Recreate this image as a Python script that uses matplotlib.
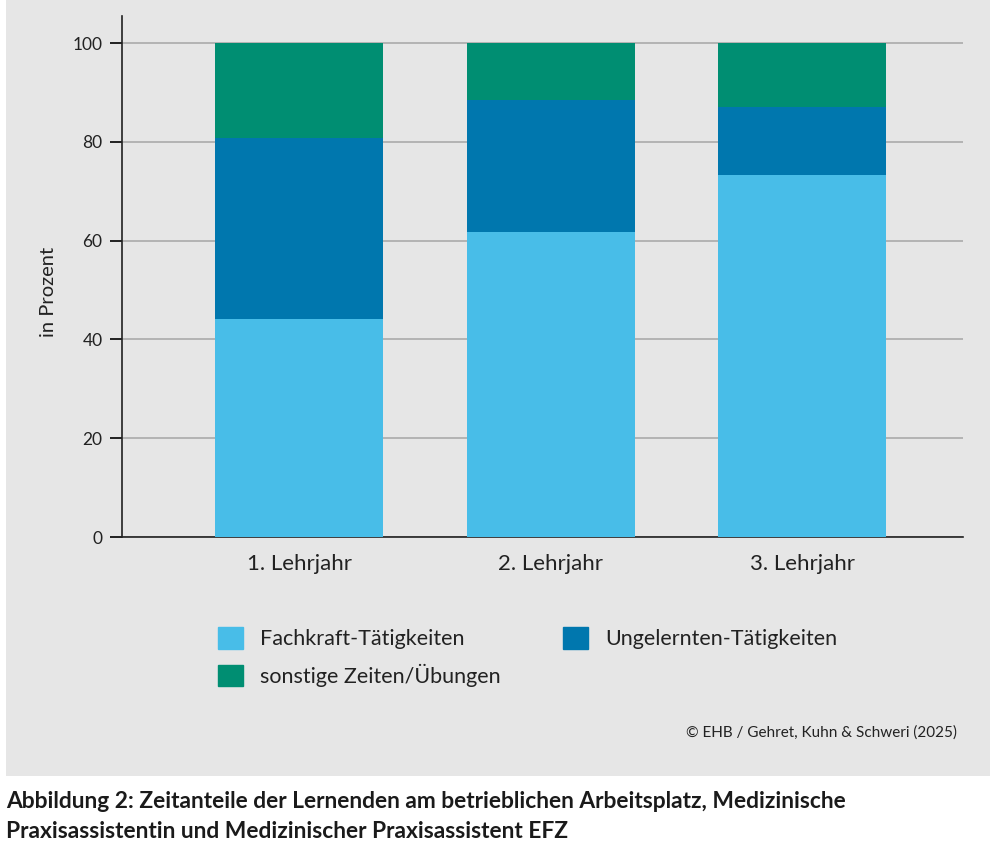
import numpy as np
import matplotlib
matplotlib.use("Agg")
from matplotlib import pyplot as plt
from matplotlib.patches import Rectangle, Patch

plt.rcParams['font.family'] = ['Lato', 'DejaVu Sans']

years = ["1. Lehrjahr", "2. Lehrjahr", "3. Lehrjahr"]
fachkraft = np.array([44.1, 61.7, 73.3])
ungelernte = np.array([36.7, 26.8, 13.7])
sonstige = np.array([19.2, 11.5, 13.0])

labels = ["Fachkraft-Tätigkeiten", "Ungelernten-Tätigkeiten", "sonstige Zeiten/Übungen"]
colors = ["#48BDE8", "#0077AE", "#008E72"]

W, H = 997, 849
fig = plt.figure(figsize=(W / 100, H / 100), dpi=100)
fig.patch.set_facecolor("white")

# gray panel behind the chart
fig.patches.append(Rectangle((6 / W, 1 - 776 / H), (990 - 6) / W, 776 / H,
                             transform=fig.transFigure, facecolor="#E6E6E6",
                             edgecolor="none", zorder=-10))

ax = fig.add_axes([122 / W, 1 - 537 / H, (963 - 122) / W, (537 - 16) / H])
ax.set_facecolor("none")

x = np.arange(len(years))
w = 0.668
ax.bar(x, fachkraft, w, color=colors[0], zorder=3)
ax.bar(x, ungelernte, w, bottom=fachkraft, color=colors[1], zorder=3)
ax.bar(x, sonstige, w, bottom=fachkraft + ungelernte, color=colors[2], zorder=3)

ax.set_xlim(-0.704, 2.64)
ax.set_ylim(0, 105.5)
ax.set_yticks([0, 20, 40, 60, 80, 100])
ax.yaxis.grid(True, color="#AAAAAA", linewidth=1.2, zorder=1)
ax.set_axisbelow(True)
ax.set_xticks(x)
ax.set_xticklabels(years, fontsize=16, color="#222222")
ax.tick_params(axis="x", length=0, pad=12)
ax.tick_params(axis="y", length=9, width=1.2, labelsize=12.5, labelcolor="#222222", pad=5)
for s in ["top", "right"]:
    ax.spines[s].set_visible(False)
for s in ["left", "bottom"]:
    ax.spines[s].set_color("#222222")
    ax.spines[s].set_linewidth(1.2)
ax.set_ylabel("in Prozent", fontsize=14.5, color="#222222")
ax.yaxis.set_label_coords(-0.077, 0.47)

handles = [Patch(color=colors[0]), Patch(color=colors[2]), Patch(color=colors[1])]
fig.legend(handles, [labels[0], labels[2], labels[1]], ncol=2,
           loc="upper left", bbox_to_anchor=(218 / W, 1 - 627 / H),
           frameon=False, fontsize=15.5, handlelength=1.16, handleheight=1.16,
           handletextpad=0.8, columnspacing=2.9, labelspacing=0.68,
           borderpad=0, borderaxespad=0, labelcolor="#222222")

fig.text(957 / W, 1 - 733 / H, "© EHB / Gehret, Kuhn & Schweri (2025)",
         ha="right", va="center", fontsize=11, color="#222222")

fig.text(6 / W, 1 - 802 / H,
         "Abbildung 2: Zeitanteile der Lernenden am betrieblichen Arbeitsplatz, Medizinische",
         ha="left", va="center", fontsize=16.4, fontweight="bold", color="#1A1A1A")
fig.text(6 / W, 1 - 832 / H,
         "Praxisassistentin und Medizinischer Praxisassistent EFZ",
         ha="left", va="center", fontsize=16.4, fontweight="bold", color="#1A1A1A")

fig.savefig("out.png", dpi=100)
